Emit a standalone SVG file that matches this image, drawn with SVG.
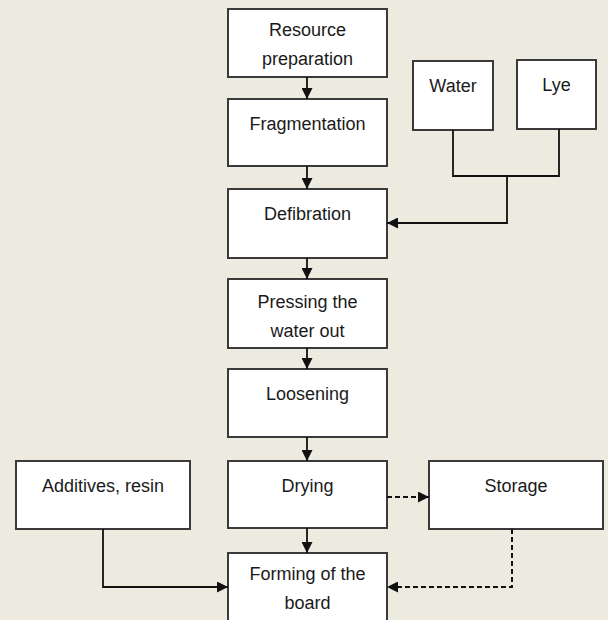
<svg xmlns="http://www.w3.org/2000/svg" width="608" height="620" viewBox="0 0 608 620">
<style>
.box{fill:#fff;stroke:#3a3a3a;stroke-width:2}
.t{font-family:"Liberation Sans",Arial,sans-serif;font-size:18px;fill:#1a1a1a;text-anchor:middle}
.c{fill:none;stroke:#111;stroke-width:1.8}
.d{fill:none;stroke:#111;stroke-width:2;stroke-dasharray:5,3}
</style>
<defs>
<marker id="ah" viewBox="0 0 10 10" refX="10" refY="5" markerWidth="11" markerHeight="11" markerUnits="userSpaceOnUse" orient="auto">
<path d="M0,0 L10,5 L0,10 Z" fill="#111"/>
</marker>
</defs>
<rect x="0" y="0" width="608" height="620" fill="#EDEAE0"/>
<g id="n1"><rect class="box" x="228" y="9" width="159" height="68"/><text class="t" x="307.5" y="36">Resource</text><text class="t" x="307.5" y="65">preparation</text></g>
<g id="n2"><rect class="box" x="228" y="99" width="159" height="67"/><text class="t" x="307.5" y="130">Fragmentation</text></g>
<g id="n3"><rect class="box" x="228" y="189" width="159" height="69"/><text class="t" x="307.5" y="220">Defibration</text></g>
<g id="n4"><rect class="box" x="228" y="279" width="159" height="69"/><text class="t" x="307.5" y="308">Pressing the</text><text class="t" x="307.5" y="337">water out</text></g>
<g id="n5"><rect class="box" x="228" y="369" width="159" height="68"/><text class="t" x="307.5" y="400">Loosening</text></g>
<g id="n6"><rect class="box" x="228" y="461" width="159" height="67"/><text class="t" x="307.5" y="492">Drying</text></g>
<g id="n7"><rect class="box" x="228" y="553" width="159" height="75"/><text class="t" x="307.5" y="580">Forming of the</text><text class="t" x="307.5" y="609">board</text></g>
<g id="water"><rect class="box" x="413" y="61" width="80" height="69"/><text class="t" x="453" y="92">Water</text></g>
<g id="lye"><rect class="box" x="517" y="60" width="79" height="69"/><text class="t" x="556.5" y="91">Lye</text></g>
<g id="additives"><rect class="box" x="16" y="461" width="174" height="68"/><text class="t" x="103" y="492">Additives, resin</text></g>
<g id="storage"><rect class="box" x="429" y="461" width="174" height="68"/><text class="t" x="516" y="492">Storage</text></g>
<g id="connectors">
<line class="c" x1="307" y1="77" x2="307" y2="99" marker-end="url(#ah)"/>
<line class="c" x1="307" y1="166" x2="307" y2="189" marker-end="url(#ah)"/>
<line class="c" x1="307" y1="258" x2="307" y2="279" marker-end="url(#ah)"/>
<line class="c" x1="307" y1="348" x2="307" y2="369" marker-end="url(#ah)"/>
<line class="c" x1="307" y1="437" x2="307" y2="461" marker-end="url(#ah)"/>
<line class="c" x1="307" y1="528" x2="307" y2="553" marker-end="url(#ah)"/>
<polyline class="c" points="453,130 453,176 559,176 559,129"/>
<polyline class="c" points="507,176 507,223 387,223" marker-end="url(#ah)"/>
<polyline class="c" points="103,529 103,587 228,587" marker-end="url(#ah)"/>
<line class="d" x1="387" y1="497" x2="429" y2="497" marker-end="url(#ah)"/>
<polyline class="d" points="512,529 512,587 387,587" marker-end="url(#ah)"/>
</g>
</svg>
